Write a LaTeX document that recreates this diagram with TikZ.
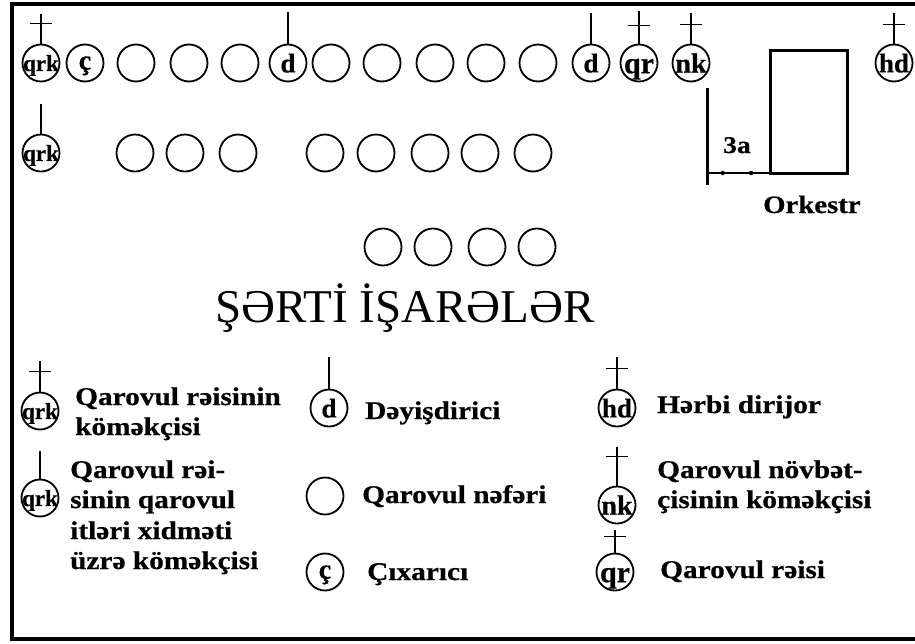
\documentclass[tikz,border=0pt]{standalone}
\usepackage{fontspec}
\setmainfont{Liberation Serif}
\newfontfamily\lgfont[FakeStretch=1.15,BoldFeatures={FakeBold=0.6}]{Liberation Serif}
\newfontfamily\symfont[BoldFeatures={FakeBold=0.6}]{Liberation Serif}
\newcommand\stick[2]{\draw[stem] (#1.north) -- ++(0,-#2);}
\newcommand\crossup[3]{\draw[stem] (#1.north) -- ++(0,-#2) coordinate (#1-top);
  \draw[stem] ([xshift=-11pt,yshift=-#3pt]#1-top) -- ([xshift=11pt,yshift=-#3pt]#1-top);}
\tikzset{
  man/.style={circle,draw,line width=1.8pt,minimum size=37pt,inner sep=0pt},
  sym/.style={font=\symfont\bfseries\fontsize{#1}{#1}\selectfont,inner sep=0pt,text depth=0pt},
  stem/.style={line width=1.4pt},
  dot/.style={circle,fill,inner sep=0pt,minimum size=4.5pt},
  lg/.style={font=\lgfont\bfseries\fontsize{25.5}{30}\selectfont,anchor=base west,inner sep=0pt},
  title/.style={font=\fontsize{47}{47}\selectfont,anchor=base,inner sep=0pt},
}
\begin{document}
\begin{tikzpicture}[x=1pt,y=-1pt]
\useasboundingbox (0,0) rectangle (915,643);
% frame
\coordinate (f1) at (915,3.5); \coordinate (f2) at (12,3.5);
\coordinate (f3) at (12,639); \coordinate (f4) at (915,639);
\draw[line width=4pt] (f1) -- (f2) -- (f3) -- (f4);
% row 1
\node[man,label={[sym=23]center:qrk}] (a1) at (41,63) {};
\node[man,label={[sym=28]center:ç}] (a2) at (85,63) {};
\node[man] (a3) at (136,63) {};
\node[man] (a4) at (189,63) {};
\node[man] (a5) at (240,63) {};
\node[man,label={[sym=27]center:d}] (a6) at (288,63) {};
\node[man] (a7) at (331,63) {};
\node[man] (a8) at (382,63) {};
\node[man] (a9) at (435,63) {};
\node[man] (a10) at (486,63) {};
\node[man] (a11) at (538,63) {};
\node[man,label={[sym=27]center:d}] (a12) at (591,63) {};
\node[man,label={[sym=30,yshift=-3pt]center:qr}] (a13) at (639,63) {};
\node[man,label={[sym=28]center:nk}] (a14) at (691,63) {};
\node[man,label={[sym=27]center:hd}] (a15) at (894,63) {};
\crossup{a1}{30}{10}
\stick{a6}{32}
\stick{a12}{31}
\crossup{a13}{33}{15}
\crossup{a14}{31}{12}
\crossup{a15}{31}{12}
% row 2
\node[man,label={[sym=23]center:qrk}] (b1) at (41,153) {};
\node[man] (b2) at (135,153) {};
\node[man] (b3) at (185,153) {};
\node[man] (b4) at (238,153) {};
\node[man] (b5) at (325,153) {};
\node[man] (b6) at (376,153) {};
\node[man] (b7) at (430,153) {};
\node[man] (b8) at (480,153) {};
\node[man] (b9) at (533,153) {};
\stick{b1}{30}
% row 3
\node[man] (c1) at (383,247) {};
\node[man] (c2) at (433,247) {};
\node[man] (c3) at (487,247) {};
\node[man] (c4) at (537,247) {};
% orchestra
\node[draw,line width=3pt,outer sep=0pt,minimum width=77pt,minimum height=123pt,inner sep=0pt] (ork) at (808.5,111.5) {};
\coordinate (bt) at (707,88); \coordinate (bb) at (707,185);
\draw[line width=3pt] (bt) -- (bb);
\draw[line width=2.5pt] (bt |- ork.south) -- node[dot,pos=0.25]{} node[dot,pos=0.7]{} (ork.south west);
\node[lg,font=\lgfont\bfseries\fontsize{24}{24}\selectfont] (t3a) at (723,153) {3a};
\node[lg,font=\lgfont\bfseries\fontsize{25}{25}\selectfont] (tork) at (763,213) {Orkestr};
% title
\node[title] (ttl) at (405,322) {ŞƏRTİ İŞARƏLƏR};
% legend column 1
\node[man,label={[sym=23]center:qrk}] (l1) at (40,411) {};
\crossup{l1}{31}{11}
\node[lg] (l1a) at (75,405) {Qarovul rəisinin};
\node[lg] (l1b) at (75,435) {köməkçisi};
\node[man,label={[sym=23]center:qrk}] (l2) at (40,498) {};
\stick{l2}{28}
\node[lg] (l2a) at (70,478) {Qarovul rəi-};
\node[lg] (l2b) at (70,508) {sinin qarovul};
\node[lg] (l2c) at (70,539) {itləri xidməti};
\node[lg] (l2d) at (70,569) {üzrə köməkçisi};
% legend column 2
\node[man,label={[sym=27]center:d}] (l3) at (329,408) {};
\stick{l3}{32}
\node[lg] (l3a) at (365,419) {Dəyişdirici};
\node[man] (l4) at (325,496) {};
\node[lg] (l4a) at (362,503) {Qarovul nəfəri};
\node[man,label={[sym=28]center:ç}] (l5) at (325,572) {};
\node[lg] (l5a) at (367,580) {Çıxarıcı};
% legend column 3
\node[man,label={[sym=27]center:hd}] (l6) at (617,408) {};
\crossup{l6}{32}{12}
\node[lg] (l6a) at (657,413) {Hərbi dirijor};
\node[man,label={[sym=28]center:nk}] (l7) at (617,505) {};
\crossup{l7}{39}{10}
\node[lg] (l7a) at (657,478) {Qarovul növbət-};
\node[lg] (l7b) at (657,508) {çisinin köməkçisi};
\node[man,label={[sym=30,yshift=-3pt]center:qr}] (l8) at (615,572) {};
\crossup{l8}{23}{7}
\node[lg] (l8a) at (660,578) {Qarovul rəisi};
\end{tikzpicture}
\end{document}
